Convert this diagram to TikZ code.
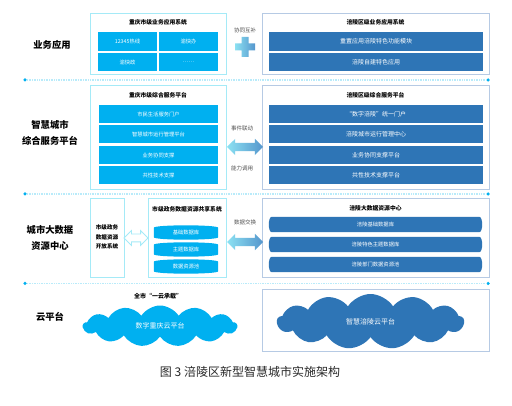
\documentclass[tikz,border=0pt]{standalone}
\usepackage{fontspec}
\setmainfont{Noto Sans CJK SC}
\usetikzlibrary{shapes.geometric,shapes.arrows,shapes.symbols}
\definecolor{cyanbar}{RGB}{0,176,240}
\definecolor{bluebar}{RGB}{46,117,182}
\definecolor{cyanframe}{RGB}{165,234,247}
\definecolor{blueframe}{RGB}{182,202,228}
\definecolor{sepline}{RGB}{185,235,250}
\definecolor{arrL}{RGB}{140,225,242}
\definecolor{arrR}{RGB}{85,150,205}
\definecolor{midtext}{RGB}{80,80,80}
\definecolor{captext}{RGB}{40,40,40}
\tikzset{
 box/.style={draw, line width=0.9pt, inner sep=0pt, fill=white},
 lbox/.style={box, draw=cyanframe},
 rbox/.style={box, draw=blueframe},
 cbar/.style={fill=cyanbar, text=white, inner sep=0pt, font=\fontsize{5.3}{6}\selectfont},
 bbar/.style={fill=bluebar, text=white, inner sep=0pt, font=\fontsize{6}{7}\selectfont},
 shapebox/.style={inner sep=0pt, draw=none},
 shapetext/.style={text=white, inner sep=0pt, font=\fontsize{5.3}{6}\selectfont},
 boxtitle/.style={font=\bfseries\fontsize{5.8}{7}\selectfont, inner sep=0pt},
 rowlabel/.style={font=\bfseries\fontsize{9.3}{16}\selectfont, align=center, inner sep=0pt},
 midlabel/.style={text=midtext, font=\fontsize{5.5}{7}\selectfont, inner sep=0pt},
 gradarrow/.style={double arrow, double arrow head extend=4pt, double arrow head indent=0pt, inner sep=4pt, left color=arrL, right color=arrR, draw=none, minimum height=36pt},
 sepdots/.style={sepline, line width=1.3pt, dash pattern=on 1pt off 0.7pt},
 sepdot/.style={circle, fill=cyanbar, inner sep=0pt, minimum size=3.5pt},
 cloudshape/.style={cloud, cloud puffs=13, cloud puff arc=115, cloud ignores aspect, inner sep=0pt, text=white, font=\fontsize{7}{8}\selectfont},
}
\newcommand\cylitem[5]{%
 \node[shapebox, minimum width=64pt, minimum height=14pt] (#1) at (#2,#3) {};
 \fill[cyanbar] ([yshift=-2.5pt]#1.north west) .. controls ([yshift=0.8pt]#1.north west) and ([yshift=0.8pt]#1.north east) .. ([yshift=-2.5pt]#1.north east) -- ([yshift=2.5pt]#1.south east) .. controls ([yshift=-0.8pt]#1.south east) and ([yshift=-0.8pt]#1.south west) .. ([yshift=2.5pt]#1.south west) -- cycle;
 \node[shapetext] (#1t) at (#1.center) {#4};}
\newcommand\barrelitem[5]{%
 \node[shapebox, minimum width=207pt, minimum height=15pt] (#1) at (#2,#3) {};
 \fill[bluebar] (#1.north west) .. controls ([yshift=0.8pt]#1.north) and ([yshift=0.8pt]#1.north) .. (#1.north east) .. controls ([xshift=4pt]#1.north east) and ([xshift=4pt]#1.south east) .. (#1.south east) .. controls ([yshift=-0.8pt]#1.south) and ([yshift=-0.8pt]#1.south) .. (#1.south west) .. controls ([xshift=-4pt]#1.south west) and ([xshift=-4pt]#1.north west) .. cycle;
 \node[shapetext] (#1t) at (#1.center) {#4};}
\begin{document}
\begin{tikzpicture}[x=1pt,y=-1pt]
\useasboundingbox[fill=white] (0,0) rectangle (512,406);

% separators
\foreach \yy/\nm in {80/a,194/b,283.5/c}{
 \node[sepdot] (sep\nm1) at (25,\yy) {};
 \node[sepdot] (sep\nm2) at (488,\yy) {};
 \draw[sepdots] (sep\nm1) -- (sep\nm2);
}

% row labels
\node[rowlabel] (lab1) at (52,45) {业务应用};
\node[rowlabel] (lab2) at (50,133) {智慧城市\\综合服务平台};
\node[rowlabel] (lab3) at (50,237.5) {城市大数据\\资源中心};
\node[rowlabel] (lab4) at (50,317) {云平台};

% ---- row 1
\node[lbox, minimum width=136pt, minimum height=61pt] (L1) at (158,43.5) {};
\node[boxtitle] (L1t) at (158,22) {重庆市级业务应用系统};
\node[cbar, minimum width=59pt, minimum height=19pt] (c11) at (127.5,41.5) {12345热线};
\node[cbar, minimum width=59pt, minimum height=19pt] (c12) at (188.5,41.5) {渝快办};
\node[cbar, minimum width=59pt, minimum height=18pt] (c21) at (127.5,62) {渝快政};
\node[cbar, minimum width=59pt, minimum height=18pt] (c22) at (188.5,62) {……};

\node[rbox, minimum width=227pt, minimum height=61pt] (R1) at (375.5,43.5) {};
\node[boxtitle] (R1t) at (375.5,22) {涪陵区级业务应用系统};
\node[bbar, minimum width=214pt, minimum height=19pt] (r11) at (376,41.5) {重置应用涪陵特色功能模块};
\node[bbar, minimum width=214pt, minimum height=18pt] (r12) at (376,62) {涪陵自建特色应用};

\node[midlabel] (m1) at (245,30) {协同互补};
\coordinate (plusc) at (245,47);
\shade[left color=arrL, right color=arrR] (241.5,37) -- (248.5,37) -- (248.5,43.5) -- (255,43.5) -- (255,50.5) -- (248.5,50.5) -- (248.5,57) -- (241.5,57) -- (241.5,50.5) -- (235,50.5) -- (235,43.5) -- (241.5,43.5) -- cycle;

% ---- row 2
\node[lbox, minimum width=136pt, minimum height=104pt] (L2) at (158,137) {};
\node[boxtitle] (L2t) at (158,95) {重庆市级综合服务平台};
\node[cbar, minimum width=119pt, minimum height=18pt] (c2a) at (158.5,114) {市民生活服务门户};
\node[cbar, minimum width=119pt, minimum height=18pt] (c2b) at (158.5,134.5) {智慧城市运行管理平台};
\node[cbar, minimum width=119pt, minimum height=18pt] (c2c) at (158.5,155) {业务协同支撑};
\node[cbar, minimum width=119pt, minimum height=18pt] (c2d) at (158.5,175.5) {共性技术支撑};

\node[rbox, minimum width=227pt, minimum height=104pt] (R2) at (375.5,137) {};
\node[boxtitle] (R2t) at (375.5,95) {涪陵区级综合服务平台};
\node[bbar, minimum width=214pt, minimum height=18pt] (r2a) at (376,114) {“数字涪陵”统一门户};
\node[bbar, minimum width=214pt, minimum height=18pt] (r2b) at (376,134.5) {涪陵城市运行管理中心};
\node[bbar, minimum width=214pt, minimum height=18pt] (r2c) at (376,155) {业务协同支撑平台};
\node[bbar, minimum width=214pt, minimum height=18pt] (r2d) at (376,175.5) {共性技术支撑平台};

\node[midlabel] (m2) at (242,128) {事件联动};
\node[midlabel] (m3) at (242,168) {能力调用};
\node[gradarrow] (a2) at (245,147) {};

% ---- row 3
\node[lbox, minimum width=34pt, minimum height=79pt] (S) at (107,237.5) {};
\node[font=\bfseries\fontsize{5.6}{9.5}\selectfont, align=center, inner sep=0pt] (St) at (107,237) {市级政务\\数据资源\\开放系统};
\node[double arrow, draw=cyanframe, fill=white, line width=0.8pt, double arrow head extend=3.5pt, double arrow head indent=0pt, inner sep=3.5pt, minimum height=24pt] (ha) at (136,238) {};
\node[lbox, minimum width=78pt, minimum height=79pt] (L3) at (187,237.5) {};
\node[boxtitle] (L3t) at (187,209) {市级政务数据资源共享系统};
\cylitem{cy1}{186}{232.5}{基础数据库}{}
\cylitem{cy2}{186}{249.5}{主题数据库}{}
\cylitem{cy3}{186}{266.5}{数据资源池}{}

\node[rbox, minimum width=227pt, minimum height=79pt] (R3) at (375.5,237.5) {};
\node[boxtitle] (R3t) at (375.5,208) {涪陵大数据资源中心};
\barrelitem{br1}{375.5}{224.5}{涪陵基础数据库}{}
\barrelitem{br2}{375.5}{244.5}{涪陵特色主题数据库}{}
\barrelitem{br3}{375.5}{264.5}{涪陵部门数据资源池}{}

\node[midlabel] (m4) at (245,222) {数据交换};
\node[gradarrow] (a3) at (245,242) {};

% ---- row 4
\node[boxtitle, font=\bfseries\fontsize{6}{7}\selectfont] (q4) at (158,296) {全市“一云承载”};
\node[cloudshape, fill=cyanbar, minimum width=154pt, minimum height=41pt] (cl1) at (160,326) {数字重庆云平台};
\node[rbox, minimum width=227pt, minimum height=62pt] (R4) at (375.5,320) {};
\node[cloudshape, fill=bluebar, minimum width=187pt, minimum height=55pt] (cl2) at (370.5,321.5) {智慧涪陵云平台};

% caption
\node[text=captext, font=\fontsize{12}{14}\selectfont, inner sep=0pt] (cap) at (250,372) {图 3 涪陵区新型智慧城市实施架构};
\end{tikzpicture}
\end{document}
